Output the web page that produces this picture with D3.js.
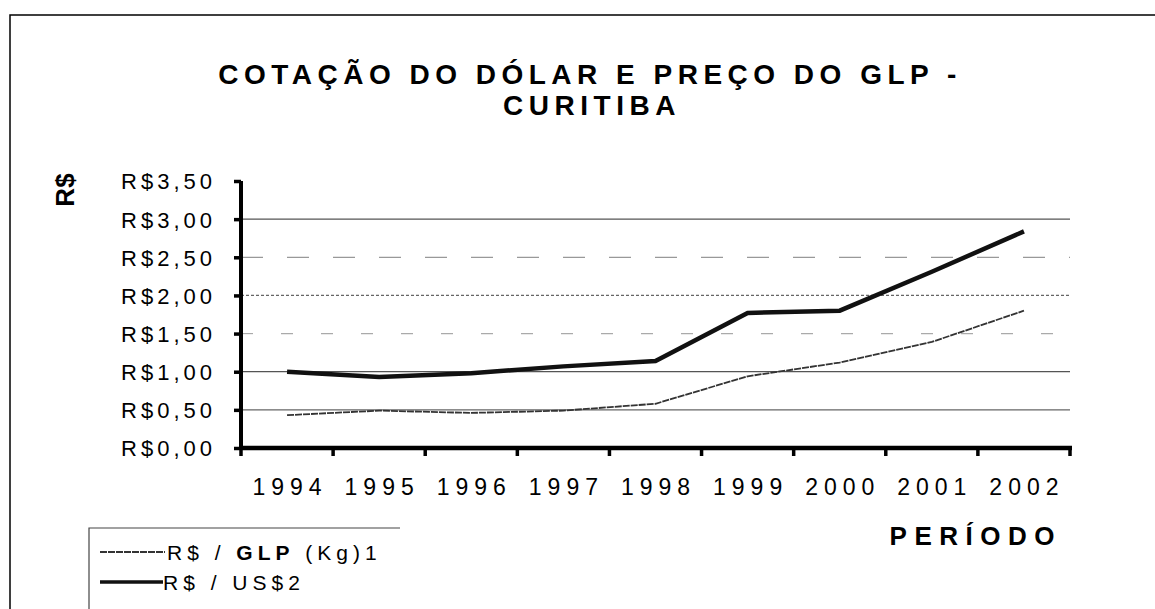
<!DOCTYPE html>
<html>
<head>
<meta charset="utf-8">
<script src="https://cdn.jsdelivr.net/npm/d3@7"></script>
<style>
    body { margin: 0; background: #fff; }
    svg text { font-family: "Liberation Sans", Arial, sans-serif; fill: #000; }
</style>
</head>
<body>
<svg id="chart" width="1155" height="609"></svg>
<script>
// data
const years = ["1994", "1995", "1996", "1997", "1998", "1999", "2000", "2001", "2002"];
const glp = [0.43, 0.49, 0.46, 0.49, 0.58, 0.94, 1.12, 1.39, 1.80];
const dolar = [1.00, 0.93, 0.98, 1.07, 1.14, 1.77, 1.80, 2.31, 2.84];
const yTicks = [0, 0.5, 1, 1.5, 2, 2.5, 3, 3.5];

const svg = d3.select("#chart");

// outer frame (cut off at right and bottom in the scan)
svg.append("rect")
    .attr("x", 10).attr("y", 15)
    .attr("width", 1160).attr("height", 620)
    .attr("fill", "none")
    .attr("stroke", "#000")
    .attr("stroke-width", 1.5);

const xScale = d3.scaleBand()
    .domain(years)
    .range([241, 1070])
    .padding(0);

const yScale = d3.scaleLinear()
    .domain([0, 3.5])
    .range([448, 181]);

const xc = (d) => xScale(d) + xScale.bandwidth() / 2;

// gridlines - the scan made some of them look dashed
const gridStyle = {
    0.5: { c: "#666", dash: null },
    1: { c: "#555", dash: null },
    1.5: { c: "#aaa", dash: "12,28" },
    2: { c: "#666", dash: "3,2" },
    2.5: { c: "#999", dash: "22,24" },
    3: { c: "#555", dash: null }
};
svg.append("g")
    .selectAll("line")
    .data(yTicks.filter(t => t > 0 && t < 3.5))
    .enter()
    .append("line")
    .attr("x1", 241).attr("x2", 1070)
    .attr("y1", d => yScale(d)).attr("y2", d => yScale(d))
    .attr("stroke", d => gridStyle[d].c)
    .attr("stroke-width", 1.2)
    .attr("stroke-dasharray", d => gridStyle[d].dash);

// y axis
const yAxis = svg.append("g")
    .attr("transform", "translate(241,0)")
    .call(d3.axisLeft(yScale)
        .tickValues(yTicks)
        .tickSize(7)
        .tickFormat(d => "R$" + d3.format(".2f")(d).replace(".", ",")));
yAxis.select(".domain").attr("stroke-width", 4).attr("d", `M0,${yScale(3.5)}V${yScale(0)}`);
yAxis.selectAll(".tick line").attr("stroke-width", 3.5);
yAxis.selectAll(".tick text")
    .attr("font-size", 22)
    .attr("letter-spacing", "4px")
    .attr("dy", "0.36em")
    .attr("x", -25);

// x axis: ticks between categories
const xAxis = svg.append("g").attr("transform", "translate(0,448)");
xAxis.append("line")
    .attr("x1", 241).attr("x2", 1072)
    .attr("stroke", "#000").attr("stroke-width", 4.5);
const bounds = years.map(d => xScale(d) + xScale.bandwidth()).concat([241]);
xAxis.selectAll(".xt")
    .data(bounds)
    .enter()
    .append("line")
    .attr("x1", d => d).attr("x2", d => d)
    .attr("y1", 0).attr("y2", 8)
    .attr("stroke", "#000").attr("stroke-width", 3.5);
xAxis.selectAll(".yl")
    .data(years)
    .enter()
    .append("text")
    .attr("x", d => xc(d) + 3)
    .attr("y", 47)
    .attr("text-anchor", "middle")
    .attr("font-size", 23)
    .attr("letter-spacing", "6px")
    .text(d => d);

// series
const line = d3.line()
    .x((d, i) => xc(years[i]))
    .y(d => yScale(d));

svg.append("path")
    .datum(glp)
    .attr("d", line)
    .attr("fill", "none")
    .attr("stroke", "#333")
    .attr("stroke-width", 1.8)
    .attr("stroke-dasharray", "7,1");

svg.append("path")
    .datum(dolar)
    .attr("d", line)
    .attr("fill", "none")
    .attr("stroke", "#111")
    .attr("stroke-width", 4.5);

// titles
svg.append("text")
    .attr("x", 590).attr("y", 84)
    .attr("text-anchor", "middle")
    .attr("font-size", 28).attr("font-weight", "bold")
    .attr("letter-spacing", "5.5px")
    .text("COTAÇÃO DO DÓLAR E PREÇO DO GLP -");
svg.append("text")
    .attr("x", 592).attr("y", 115)
    .attr("text-anchor", "middle")
    .attr("font-size", 28).attr("font-weight", "bold")
    .attr("letter-spacing", "5.5px")
    .text("CURITIBA");

svg.append("text")
    .attr("transform", "translate(74,190) rotate(-90)")
    .attr("text-anchor", "middle")
    .attr("font-size", 26).attr("font-weight", "bold")
    .text("R$");

svg.append("text")
    .attr("x", 1062).attr("y", 545)
    .attr("text-anchor", "end")
    .attr("font-size", 26).attr("font-weight", "bold")
    .attr("letter-spacing", "7.5px")
    .text("PERÍODO");

// legend
const legend = svg.append("g");
legend.append("path")
    .attr("d", "M400,528H89V612")
    .attr("fill", "none")
    .attr("stroke", "#444")
    .attr("stroke-width", 1.2);

legend.append("line")
    .attr("x1", 100).attr("x2", 165).attr("y1", 552).attr("y2", 552)
    .attr("stroke", "#333").attr("stroke-width", 1.8).attr("stroke-dasharray", "7,1");
legend.append("line")
    .attr("x1", 100).attr("x2", 163).attr("y1", 582).attr("y2", 582)
    .attr("stroke", "#111").attr("stroke-width", 3.5);

const t1 = legend.append("text")
    .attr("x", 167).attr("y", 560)
    .attr("font-size", 21)
    .attr("letter-spacing", "5px");
t1.append("tspan").text("R$ / ");
t1.append("tspan").attr("font-weight", "bold").text("GLP");
t1.append("tspan").text(" (Kg)1");

legend.append("text")
    .attr("x", 163).attr("y", 590)
    .attr("font-size", 21)
    .attr("letter-spacing", "5px")
    .text("R$ / US$2");
</script>
</body>
</html>
